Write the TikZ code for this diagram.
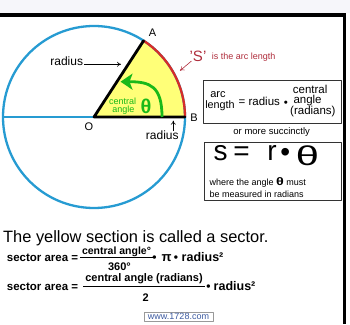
\documentclass[tikz,border=0pt]{standalone}
\usepackage{fontspec}
\setmainfont{Liberation Sans}
\usetikzlibrary{arrows.meta}
\definecolor{circblue}{RGB}{38,155,210}
\definecolor{sectyellow}{RGB}{255,255,120}
\definecolor{arcred}{RGB}{215,45,40}
\definecolor{anglegreen}{RGB}{25,185,25}
\definecolor{labelred}{RGB}{175,45,60}
\definecolor{webblue}{RGB}{60,90,160}
\definecolor{topgray}{RGB}{246,246,250}
\begin{document}
\begin{tikzpicture}[x=1pt, y=1pt, line join=round, >=Stealth,
	txt/.style={inner sep=0pt, font=\fontsize{#1}{#1}\selectfont},
	btxt/.style={inner sep=0pt, font=\fontsize{#1}{#1}\selectfont\bfseries},
	box/.style={draw=black!80, line width=0.9, inner sep=0pt},
	thin arrow/.style={-{To[length=4,width=5]}, line width=0.6}]
	\useasboundingbox (0,0) rectangle (350,324);
	\fill[topgray] (0,311) rectangle (350,324);
	\fill[black] (0,307) rectangle (346,311);
	\fill[black] (343,0) rectangle (346,311);
	\coordinate (O) at (94,207);
	\coordinate (A) at (143.6,283.3);
	\coordinate (B) at (185,207);
	\coordinate (W) at (3,207);
	\fill[sectyellow] (O)--(B) arc[start angle=0, end angle=57, radius=91]--cycle;
	\draw[circblue, line width=2.3] (O) circle[radius=91];
	\draw[circblue, line width=2.3] (W)--(O);
	\draw[arcred, line width=2.3] (B) arc[start angle=0, end angle=57, radius=91];
	\draw[line width=2.8, line cap=round] (A)--(O)--(B);
	\node[txt=11] (labA) at (152.5,291) {A};
	\node[txt=11] (labB) at (194,206.2) {B};
	\node[txt=11] (labO) at (89,197.7) {O};
	\node[txt=12, anchor=base] (rad1) at (66.7,258.3) {radius};
	\coordinate (rad1tip) at (121,259.7);
	\draw[thin arrow] ([shift={(1,1.4)}]rad1.base east)--(rad1tip);
	\node[txt=12, anchor=base] (rad2) at (162.3,184) {radius};
	\coordinate (rad2tip) at (173.3,203.3);
	\draw[thin arrow] (rad2tip |- rad2.north)--(rad2tip);
	\coordinate (g0) at (162,207);
	\coordinate (g1) at (120.5,242.3);
	\draw[anglegreen, line width=2.8, -{Stealth[length=12,width=16,inset=3]}] (g0) .. controls (162,238) and (150,242.3) .. (g1);
	\node[txt=9, text=anglegreen, anchor=base] (cent) at (122.7,219.3) {central};
	\node[txt=9, text=anglegreen, anchor=base] (angl) at (123.3,211) {angle};
	\node[btxt=20, text=anglegreen] (thet) at (146,218) {θ};
	\node[txt=15, text=labelred] (sq) at (198,267.5) {'S'};
	\node[txt=9, text=labelred, anchor=west] (arclen) at (211.7,266.7) {is the arc length};
	\coordinate (sqtip) at (180,253.3);
	\draw[labelred, thin arrow] ([shift={(2,1)}]sq.south west)--(sqtip);
	\node[box, minimum width=138, minimum height=42.6] (box1) at (272,222) {};
	\node[txt=11, anchor=base] (arcw) at (218,226.5) {arc};
	\node[txt=10.8, anchor=base] (lenw) at (220,215.5) {length};
	\node[txt=11.5, anchor=base west] (eqrad) at (238.5,218.5) {= radius};
	\node[txt=11.5, anchor=base] (dot1) at (286,217.5) {•};
	\node[txt=11.5, anchor=base west] (cenw) at (292.7,230.7) {central};
	\node[txt=11.5, anchor=base west] (angw) at (293.3,220.7) {angle};
	\node[txt=11.5, anchor=base west] (radw) at (290,209) {(radians)};
	\node[txt=9.5] (succ) at (271.7,192.3) {or more succinctly};
	\node[box, minimum width=137, minimum height=58] (box2) at (272.5,152.3) {};
	\node[txt=28, anchor=base] (bigs) at (220.5,163.3) {s};
	\node[txt=28, anchor=base] (bigeq) at (241.5,163.3) {=};
	\node[txt=28, anchor=base] (bigr) at (272,163.3) {r};
	\node[txt=28, anchor=base] (bigdot) at (285.3,162.5) {•};
	\node[txt=26] (bigth) at (307.5,168.7) {\scalebox{1.6}[1.05]{θ}};
	\node[txt=9, anchor=base west] (where) at (209.3,138.5) {where the angle {\fontsize{11}{11}\selectfont\bfseries\scalebox{1.3}[1]{θ}} must};
	\node[txt=9, anchor=base west] (meas) at (209.3,127) {be measured in radians};
	\node[txt=16.4, anchor=base west] (yell) at (3,81.5) {The yellow section is called a sector.};
	\node[btxt=11.5, anchor=base west] (sa1) at (6.7,62.3) {sector area =};
	\node[btxt=10.5, anchor=base] (num1) at (116.5,69.5) {central angle°};
	\draw[line width=1] ([xshift=-2,yshift=-3.2]num1.base west)--([xshift=2,yshift=-3.2]num1.base east);
	\node[btxt=11, anchor=base] (den1) at (119.5,54) {360°};
	\node[btxt=12, anchor=base] (dot2) at (154.5,62.3) {•};
	\node[btxt=13, anchor=base] (piw) at (166.7,62.3) {π};
	\node[btxt=12, anchor=base] (dot3) at (176,62.3) {•};
	\node[btxt=12.5, anchor=base west] (rad3) at (181.5,62.3) {radius²};
	\node[btxt=11.5, anchor=base west] (sa2) at (6.7,34) {sector area =};
	\node[btxt=11, anchor=base] (num2) at (144,42.3) {central angle (radians)};
	\draw[line width=1] ([xshift=-2,yshift=-5]num2.base west)--([xshift=2,yshift=-5]num2.base east);
	\node[btxt=11, anchor=base] (den2) at (145.8,22.3) {2};
	\node[btxt=12, anchor=base] (dot4) at (208.5,34) {•};
	\node[btxt=12.5, anchor=base west] (rad4) at (213.5,34) {radius²};
	\node[draw=black!40, text=webblue, font=\fontsize{9}{9}\selectfont, inner sep=0pt, minimum width=69, minimum height=9] (web) at (178.5,7.5) {www.1728.com};
\end{tikzpicture}
\end{document}
